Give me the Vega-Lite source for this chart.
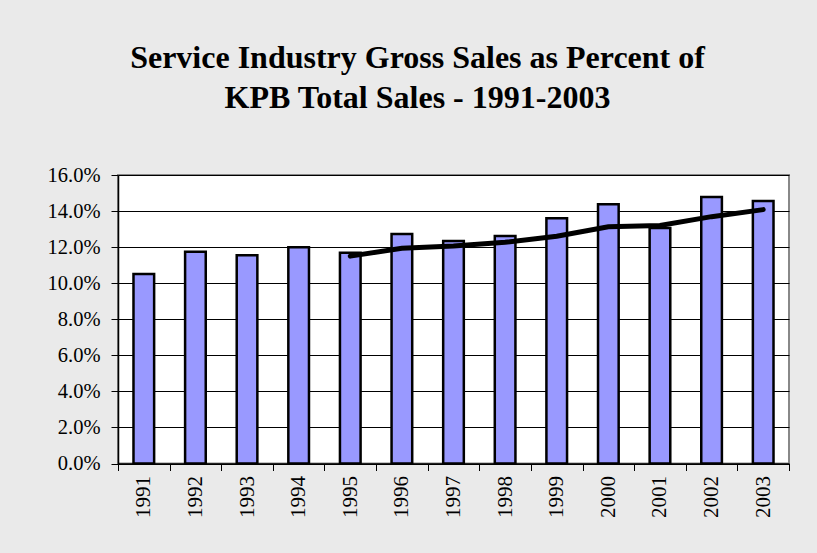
{
  "$schema": "https://vega.github.io/schema/vega-lite/v6.json",
  "width": 671,
  "height": 288.5,
  "autosize": {"type": "none"},
  "padding": {"left": 118, "top": 175, "right": 28, "bottom": 89.5},
  "background": "#eaeaea",
  "title": {
    "text": ["Service Industry Gross Sales as Percent of", "KPB Total Sales - 1991-2003"],
    "font": "Liberation Serif",
    "fontSize": 32,
    "fontWeight": "bold",
    "color": "#000000",
    "lineHeight": 40,
    "anchor": "middle",
    "frame": "group",
    "dx": -36,
    "offset": 50
  },
  "data": {
    "values": [
      {"year": "1991", "pct": 0.1051, "ma": null},
      {"year": "1992", "pct": 0.1175, "ma": null},
      {"year": "1993", "pct": 0.1155, "ma": null},
      {"year": "1994", "pct": 0.1199, "ma": null},
      {"year": "1995", "pct": 0.1169, "ma": 0.1150},
      {"year": "1996", "pct": 0.1273, "ma": 0.1194},
      {"year": "1997", "pct": 0.1234, "ma": 0.1206},
      {"year": "1998", "pct": 0.1262, "ma": 0.1227},
      {"year": "1999", "pct": 0.1360, "ma": 0.1260},
      {"year": "2000", "pct": 0.1438, "ma": 0.1313},
      {"year": "2001", "pct": 0.1306, "ma": 0.1320},
      {"year": "2002", "pct": 0.1478, "ma": 0.1369},
      {"year": "2003", "pct": 0.1456, "ma": 0.1408}
    ]
  },
  "encoding": {
    "x": {
      "field": "year",
      "type": "ordinal",
      "scale": {"paddingInner": 0, "paddingOuter": 0},
      "axis": {
        "title": null,
        "labelAngle": -90,
        "labelAlign": "right",
        "labelBaseline": "middle",
        "labelFont": "Liberation Serif",
        "labelFontSize": 21,
        "labelColor": "#000000",
        "labelPadding": 5,
        "labelOverlap": false,
        "tickBand": "extent",
        "tickSize": 7,
        "tickColor": "#000000",
        "tickWidth": 1,
        "domainColor": "#000000",
        "domainWidth": 1.5,
        "grid": false
      }
    }
  },
  "layer": [
    {
      "mark": {"type": "bar", "width": {"band": 0.4}, "fill": "#9999ff", "stroke": "#000000", "strokeWidth": 2.5},
      "encoding": {
        "y": {
          "field": "pct",
          "type": "quantitative",
          "scale": {"domain": [0, 0.16], "nice": false},
          "axis": {
            "title": null,
            "format": ".1%",
            "values": [0, 0.02, 0.04, 0.06, 0.08, 0.1, 0.12, 0.14, 0.16],
            "labelFont": "Liberation Serif",
            "labelFontSize": 20.5,
            "labelColor": "#000000",
            "labelPadding": 11,
            "labelOverlap": false,
            "tickSize": 7,
            "tickColor": "#000000",
            "domainColor": "#000000",
            "domainWidth": 1.5,
            "grid": true,
            "gridColor": "#000000",
            "gridWidth": 1,
            "gridOpacity": 1
          }
        }
      }
    },
    {
      "mark": {"type": "line", "color": "#000000", "strokeWidth": 5, "strokeCap": "round"},
      "encoding": {
        "y": {
          "field": "ma",
          "type": "quantitative",
          "scale": {"domain": [0, 0.16], "nice": false},
          "axis": {
            "title": null,
            "format": ".1%",
            "values": [0, 0.02, 0.04, 0.06, 0.08, 0.1, 0.12, 0.14, 0.16],
            "labelFont": "Liberation Serif",
            "labelFontSize": 20.5,
            "labelColor": "#000000",
            "labelPadding": 11,
            "labelOverlap": false,
            "tickSize": 7,
            "tickColor": "#000000",
            "domainColor": "#000000",
            "domainWidth": 1.5,
            "grid": true,
            "gridColor": "#000000",
            "gridWidth": 1,
            "gridOpacity": 1
          }
        }
      }
    }
  ],
  "config": {
    "view": {"fill": "#ffffff", "stroke": "#888888", "strokeWidth": 2}
  }
}
